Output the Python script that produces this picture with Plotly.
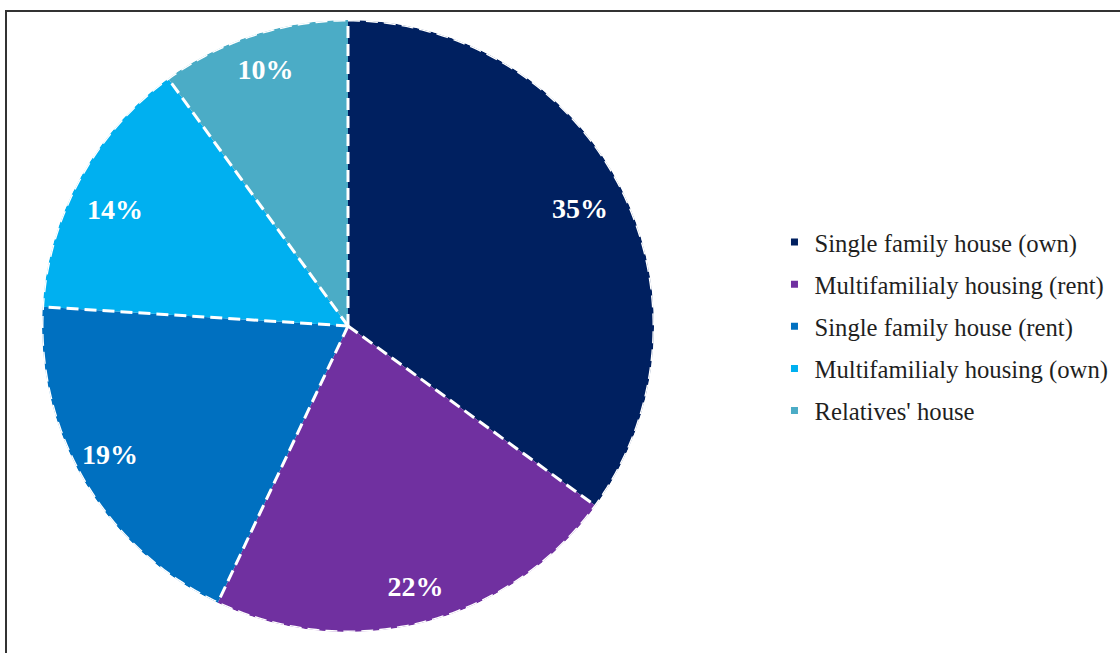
import plotly.graph_objects as go

# Housing type shares (percent), clockwise from 12 o'clock
categories = [
    "Single family house (own)",
    "Multifamilialy housing (rent)",
    "Single family house (rent)",
    "Multifamilialy housing (own)",
    "Relatives' house",
]
shares = [35, 22, 19, 14, 10]
colors = ["#002060", "#7030A0", "#0070C0", "#00B0F0", "#4BACC6"]

# label placement: radial fraction and small angular nudge (degrees)
label_r = [0.846, 0.887, 0.888, 0.848, 0.873]
label_nudge = [0.6, 0.0, 1.8, -2.7, 0.0]

W, H = 1120, 653
total = sum(shares)

# angular extents of each slice (degrees)
starts, spans = [], []
acc = 0.0
for v in shares:
    starts.append(acc / total * 360)
    spans.append(v / total * 360)
    acc += v
mids = [s + w / 2 for s, w in zip(starts, spans)]

fig = go.Figure()

# slices
fig.add_trace(go.Barpolar(
    r=[1] * len(shares), theta=mids, width=spans,
    marker=dict(color=colors, line=dict(width=0)),
    showlegend=False, hoverinfo="skip",
))

# dashed white radial separators
rad_r, rad_t = [], []
for s in starts:
    rad_r += [0, 1, None]
    rad_t += [s, s, None]
fig.add_trace(go.Scatterpolar(
    r=rad_r, theta=rad_t, mode="lines",
    line=dict(color="white", width=3, dash="12px,6px"),
    showlegend=False, hoverinfo="skip",
))

# dashed white rim
rim_t = list(range(0, 361))
fig.add_trace(go.Scatterpolar(
    r=[1] * len(rim_t), theta=rim_t, mode="lines",
    line=dict(color="white", width=3, dash="12px,6px"),
    showlegend=False, hoverinfo="skip",
))

# percentage labels
fig.add_trace(go.Scatterpolar(
    r=label_r, theta=[m + d for m, d in zip(mids, label_nudge)], mode="text",
    text=[f"<b>{v}%</b>" for v in shares],
    textfont=dict(family="Liberation Serif", size=28, color="white"),
    showlegend=False, hoverinfo="skip",
))

# legend entries
for i, (name, col) in enumerate(zip(categories, colors)):
    fig.add_trace(go.Scatterpolar(
        r=[None], theta=[None], mode="markers", name=name,
        marker=dict(symbol="square", size=7, color=col),
        legendgroup=f"g{i}",
    ))

fig.update_layout(
    width=W, height=H,
    margin=dict(l=0, r=0, t=0, b=0),
    paper_bgcolor="white",
    plot_bgcolor="white",
    polar=dict(
        domain=dict(x=[42 / W, 654 / W], y=[21 / H, 633 / H]),
        bgcolor="rgba(0,0,0,0)",
        angularaxis=dict(rotation=90, direction="clockwise", visible=False),
        radialaxis=dict(range=[0, 1], visible=False),
        bargap=0,
    ),
    legend=dict(
        x=0.6915, xanchor="left", y=0.5, yanchor="middle",
        font=dict(family="Liberation Serif", size=24.7, color="#1f1f1f"),
        traceorder="grouped", tracegroupgap=7,
        itemwidth=30, bgcolor="rgba(0,0,0,0)",
    ),
    shapes=[dict(
        type="rect", xref="paper", yref="paper",
        x0=6 / W, x1=1.02, y0=-0.02, y1=1 - 11 / H,
        line=dict(color="#333333", width=2),
    )],
)

fig.write_html("out.html")
